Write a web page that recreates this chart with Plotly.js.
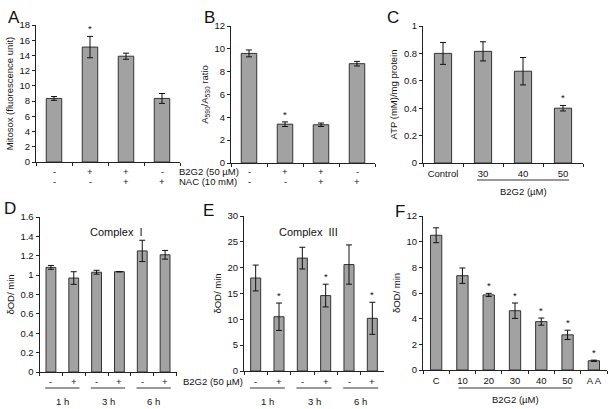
<!DOCTYPE html>
<html>
<head>
<meta charset="utf-8">
<script src="https://cdn.plot.ly/plotly-3.0.1.min.js"></script>
<style>html,body{margin:0;padding:0;background:#fff}#chart{width:614px;height:409px}</style>
</head>
<body>
<div id="chart"></div>
<script>
// ---------- DATA ----------
// Panel A: MitoSOX
const groupsA = ['Control', 'B2G2', 'B2G2+NAC', 'NAC'];
const b2g2A = ['-', '+', '+', '-'];
const nacA = ['-', '-', '+', '+'];
const mitosox = [8.35, 15.1, 13.9, 8.35];
const mitosoxErr = [0.25, 1.4, 0.4, 0.65];
const mitosoxSig = [false, true, false, false];

// Panel B: A590/A530 ratio
const groupsB = ['Control', 'B2G2', 'B2G2+NAC', 'NAC'];
const b2g2B = ['-', '+', '+', '-'];
const nacB = ['-', '-', '+', '+'];
const ratio = [9.6, 3.4, 3.35, 8.7];
const ratioErr = [0.3, 0.2, 0.15, 0.2];
const ratioSig = [false, true, false, false];

// Panel C: ATP
const catsC = ['Control', '30', '40', '50'];
const atp = [0.80, 0.815, 0.67, 0.40];
const atpErr = [0.08, 0.07, 0.10, 0.02];
const atpSig = [false, false, false, true];

// Panel D: Complex I
const timesD = ['1 h', '1 h', '3 h', '3 h', '6 h', '6 h'];
const treatD = ['-', '+', '-', '+', '-', '+'];
const complexI = [1.08, 0.97, 1.03, 1.035, 1.25, 1.21];
const complexIErr = [0.02, 0.065, 0.02, 0, 0.11, 0.045];

// Panel E: Complex III
const timesE = ['1 h', '1 h', '3 h', '3 h', '6 h', '6 h'];
const treatE = ['-', '+', '-', '+', '-', '+'];
const complexIII = [18.0, 10.5, 21.85, 14.6, 20.6, 10.2];
const complexIIIErr = [2.5, 2.65, 2.1, 2.2, 3.8, 3.1];
const complexIIISig = [false, true, false, true, false, true];

// Panel F: dose response
const catsF = ['C', '10', '20', '30', '40', '50', 'A A'];
const activityF = [10.5, 7.35, 5.85, 4.62, 3.77, 2.74, 0.72];
const activityFErr = [0.58, 0.6, 0.12, 0.6, 0.28, 0.36, 0.05];
const activityFSig = [false, false, true, true, true, true, true];

// ---------- HELPERS ----------
const W = 614, H = 409;
const px = x => x / W;
const py = y => 1 - y / H;
const FONT = 'Liberation Sans, Arial, sans-serif';
const BAR_FILL = '#a2a2a2', BAR_LINE = '#333333';

function bar(xa, ya, x, y, err) {
  return {
    type: 'bar', x: x, y: y, xaxis: xa, yaxis: ya,
    marker: {color: BAR_FILL, line: {color: BAR_LINE, width: 1}},
    error_y: {type: 'data', array: err, visible: true, color: '#111', thickness: 1, width: 3},
    showlegend: false, hoverinfo: 'skip'
  };
}
function xAxis(dom, anchor, showLabels) {
  return {
    domain: dom, anchor: anchor, type: 'category',
    showline: true, linecolor: '#222', linewidth: 1,
    ticks: 'outside', ticklen: 3, tickcolor: '#222', tickson: 'boundaries',
    showticklabels: !!showLabels, tickfont: {size: 9.5, color: '#111', family: FONT},
    ticklabelstandoff: 2,
    showgrid: false, zeroline: false, fixedrange: true
  };
}
function yAxis(dom, anchor, range, dtick, title) {
  return {
    domain: dom, anchor: anchor, range: range, dtick: dtick,
    showline: true, linecolor: '#222', linewidth: 1,
    ticks: 'outside', ticklen: 3, tickcolor: '#222',
    tickfont: {size: 9.5, color: '#111', family: FONT},
    showgrid: false, zeroline: false, fixedrange: true,
    title: {text: title, font: {size: 9.5, color: '#111', family: FONT}, standoff: 4}
  };
}

const traces = [
  bar('x', 'y', groupsA, mitosox, mitosoxErr),
  bar('x2', 'y2', groupsB, ratio, ratioErr),
  bar('x3', 'y3', catsC, atp, atpErr),
  bar('x4', 'y4', timesD.map((t, i) => t + ' ' + treatD[i]), complexI, complexIErr),
  bar('x5', 'y5', timesE.map((t, i) => t + ' ' + treatE[i]), complexIII, complexIIIErr),
  bar('x6', 'y6', catsF, activityF, activityFErr)
];

const annotations = [];
const shapes = [];
const txt = (o) => Object.assign({showarrow: false, font: {size: 9.5, color: '#111', family: FONT}}, o);

// significance stars
function stars(xa, ya, vals, errs, sig) {
  vals.forEach((v, i) => {
    if (sig[i]) annotations.push(txt({xref: xa, yref: ya, x: i, y: v + errs[i], yanchor: 'bottom', text: '*', yshift: 0}));
  });
}
stars('x', 'y', mitosox, mitosoxErr, mitosoxSig);
stars('x2', 'y2', ratio, ratioErr, ratioSig);
stars('x3', 'y3', atp, atpErr, atpSig);
stars('x5', 'y5', complexIII, complexIIIErr, complexIIISig);
stars('x6', 'y6', activityF, activityFErr, activityFSig);

// +/- rows
function signRow(xa, signs, yPix) {
  signs.forEach((s, i) => annotations.push(txt({xref: xa, yref: 'paper', x: i, y: py(yPix), yanchor: 'middle', text: s})));
}
signRow('x', b2g2A, 172); signRow('x', nacA, 182);
signRow('x2', b2g2B, 172); signRow('x2', nacB, 182);
signRow('x4', treatD, 381);
signRow('x5', treatE, 381);

annotations.push(txt({xref: 'paper', yref: 'paper', x: px(177), y: py(172), xanchor: 'left', yanchor: 'middle', text: 'B2G2 (50 µM)'}));
annotations.push(txt({xref: 'paper', yref: 'paper', x: px(177), y: py(182), xanchor: 'left', yanchor: 'middle', text: 'NAC (10 mM)'}));
annotations.push(txt({xref: 'paper', yref: 'paper', x: px(181), y: py(381), xanchor: 'left', yanchor: 'middle', text: 'B2G2 (50 µM)'}));

// group underlines and labels for time courses
function timeGroups(xa, times) {
  const uniq = [...new Set(times)];
  uniq.forEach(t => {
    const idx = times.map((v, i) => v === t ? i : -1).filter(i => i >= 0);
    const a = idx[0], b = idx[idx.length - 1];
    shapes.push({type: 'line', xref: xa, yref: 'paper', x0: a - 0.25, x1: b + 0.25, y0: py(388), y1: py(388), line: {color: '#333', width: 1}});
    annotations.push(txt({xref: xa, yref: 'paper', x: (a + b) / 2, y: py(401), yanchor: 'middle', text: t}));
  });
}
timeGroups('x4', timesD);
timeGroups('x5', timesE);

// dose underline
function doseLine(xa, cats, first, last, yLine, yLab) {
  const a = cats.indexOf(first), b = cats.indexOf(last);
  shapes.push({type: 'line', xref: xa, yref: 'paper', x0: a - 0.15, x1: b + 0.15, y0: py(yLine), y1: py(yLine), line: {color: '#333', width: 1}});
  annotations.push(txt({xref: xa, yref: 'paper', x: (a + b) / 2, y: py(yLab), yanchor: 'middle', text: 'B2G2 (µM)'}));
}
doseLine('x3', catsC, '30', '50', 180, 192);
doseLine('x6', catsF, '10', '50', 388, 399);

// in-plot titles
annotations.push(txt({xref: 'paper', yref: 'paper', x: px(88), y: py(232), yanchor: 'middle', text: 'Complex  I', font: {size: 11, color: '#111', family: FONT}}));
annotations.push(txt({xref: 'paper', yref: 'paper', x: px(308), y: py(232), yanchor: 'middle', text: 'Complex  III', font: {size: 11, color: '#111', family: FONT}}));

// panel letters
[['A', 6, 17], ['B', 202, 17], ['C', 385, 17], ['D', 2, 208], ['E', 201, 210], ['F', 393, 211]].forEach(([l, x, y]) => {
  annotations.push(txt({xref: 'paper', yref: 'paper', x: px(x), y: py(y), xanchor: 'left', yanchor: 'middle', text: l, font: {size: 17, color: '#111', family: FONT}}));
});

const layout = {
  width: W, height: H,
  margin: {l: 0, r: 0, t: 0, b: 0},
  paper_bgcolor: '#fff', plot_bgcolor: '#fff',
  font: {family: FONT, size: 9.5, color: '#111'},
  bargap: 0.57,
  xaxis: xAxis([px(36), px(180)], 'y'),
  yaxis: yAxis([py(162), py(25)], 'x', [0, 18], 2, 'Mitosox (fluorescence unit)'),
  xaxis2: xAxis([px(231), px(375)], 'y2'),
  yaxis2: yAxis([py(163), py(26)], 'x2', [0, 12], 2, 'A<sub>590</sub>/A<sub>530</sub> ratio'),
  xaxis3: xAxis([px(423), px(583)], 'y3', true),
  yaxis3: yAxis([py(163), py(26)], 'x3', [0, 1], 0.2, 'ATP (mM)/mg protein'),
  xaxis4: xAxis([px(39.5), px(176.5)], 'y4'),
  yaxis4: yAxis([py(372), py(217)], 'x4', [0, 1.6], 0.2, 'δOD/ min'),
  xaxis5: xAxis([px(244), px(384)], 'y5'),
  yaxis5: yAxis([py(371), py(216)], 'x5', [0, 30], 5, 'δOD/ min'),
  xaxis6: xAxis([px(423), px(607)], 'y6', true),
  yaxis6: yAxis([py(370), py(216)], 'x6', [0, 12], 2, 'δOD/ min'),
  annotations: annotations,
  shapes: shapes
};

Plotly.newPlot('chart', traces, layout, {displayModeBar: false, staticPlot: true});
</script>
</body>
</html>
